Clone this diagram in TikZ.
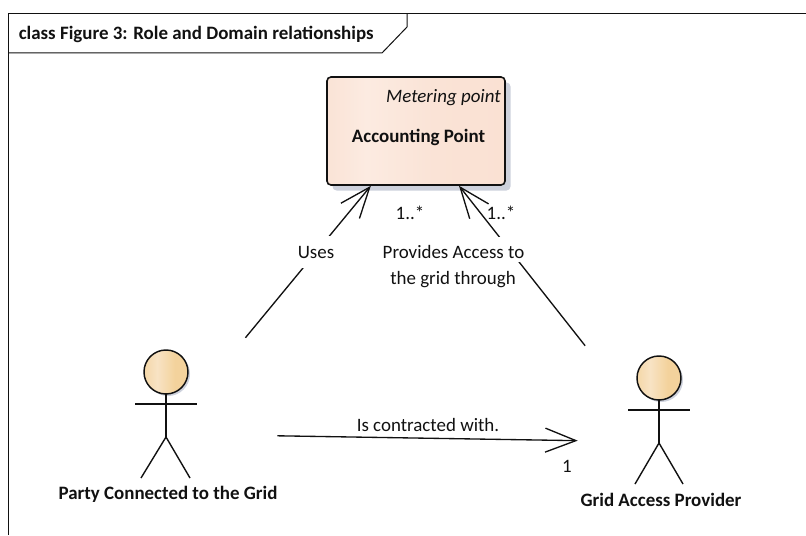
\documentclass[tikz,border=0pt]{standalone}
\usepackage{fontspec}
\setmainfont{Carlito}
\usetikzlibrary{arrows.meta}
\definecolor{ink}{HTML}{111111}
\definecolor{shadowc}{HTML}{CDD1DC}
\definecolor{boxa}{HTML}{FAE3D6}
\definecolor{boxb}{HTML}{FCEBE1}
\definecolor{boxc}{HTML}{FAE1D3}
\definecolor{heada}{HTML}{F4D7A8}
\definecolor{headb}{HTML}{F8E3C4}
\definecolor{headc}{HTML}{F3D29C}
\pgfdeclarehorizontalshading{boxshade}{100bp}{color(0bp)=(boxa);color(25bp)=(boxa);color(36bp)=(boxb);color(55bp)=(boxa);color(75bp)=(boxc);color(100bp)=(boxc)}
\pgfdeclarehorizontalshading{headshade}{100bp}{color(0bp)=(heada);color(25bp)=(heada);color(40bp)=(headb);color(60bp)=(headc);color(100bp)=(headc)}
\tikzset{
  x=0.75pt,y=-0.75pt,
  framel/.style={draw=ink,line width=0.75pt},
  itembox/.style={draw=ink,line width=1.2pt,rounded corners=3pt,shading=boxshade,minimum width=133.5pt,minimum height=81pt,inner sep=0pt},
  shadowbox/.style={fill=shadowc,rounded corners=3pt,minimum width=133.5pt,minimum height=81pt,inner sep=0pt},
  actorbox/.style={inner sep=0pt,minimum height=144pt},
  actorline/.style={draw=ink,line width=1.05pt},
  headball/.style={draw=ink,line width=1.1pt,shading=headshade},
  conn/.style={draw=ink,line width=1pt,-{Straight Barb[length=23pt,width=18pt,line width=1pt]}},
  txt/.style={font=\fontsize{14.2pt}{16pt}\selectfont,inner sep=0pt,text=ink},
  btxt/.style={font=\fontsize{14.2pt}{16pt}\selectfont\bfseries,inner sep=0pt,text=ink},
}
\begin{document}
\begin{tikzpicture}
\useasboundingbox (0,0) rectangle (806,535);
% frame
\draw[framel] (8,535) -- (8,13.5) -- (806,13.5);
\draw[framel] (407,13.5) -- (407,27) -- (382,53) -- (8,53);
\node[btxt,anchor=west] (title) at (18.5,34.5) {class Figure 3: Role and Domain relationships};
% class box
\node[shadowbox] (boxshadow) at (421.5,136.5) {};
\node[itembox] (box) at (416,131) {};
\node[txt,anchor=east,font=\fontsize{14.2pt}{16pt}\selectfont\itshape] (stereo) at (501,98) {Metering point};
\node[btxt] (boxname) at (418.5,137) {Accounting Point};
% actor hit areas
\node[actorbox,minimum width=166.5pt] (party) at (166,434) {};
\node[actorbox,minimum width=124.5pt] (provider) at (661,442) {};
% connectors
\draw[conn] (party) -- (box);
\draw[conn] (provider) -- (box);
\draw[conn] (party) -- (provider);
% party actor
\fill[shadowc] (168,374) circle[radius=22];
\draw[headball] (166,372) circle[radius=22];
\draw[actorline] (166,394) -- (166,437) (135,404) -- (196.5,404);
\draw[actorline] (141,478) -- (166,437) -- (190,478);
\node[btxt] (partyname) at (168,494) {Party Connected to the Grid};
% provider actor
\fill[shadowc] (661,380) circle[radius=22];
\draw[headball] (659,378) circle[radius=22];
\draw[actorline] (659,400) -- (659,443) (628,410) -- (690,410);
\draw[actorline] (635,484) -- (659,443) -- (683,484);
\node[btxt] (providername) at (661,500) {Grid Access Provider};
% connector labels
\node[txt,fill=white,minimum height=24pt] (uses) at (316,252) {Uses};
\node[txt,fill=white,text height=15.75pt,text depth=3pt] (prov1) at (453.5,249.5) {Provides Access to};
\node[txt] (prov2) at (453,280) {the grid through};
\node[txt] (contract) at (428,425) {Is contracted with.};
\node[txt] (m1) at (410,212.5) {1..*};
\node[txt] (m2) at (501,212.5) {1..*};
\node[txt] (m3) at (567,466) {1};
\end{tikzpicture}
\end{document}
